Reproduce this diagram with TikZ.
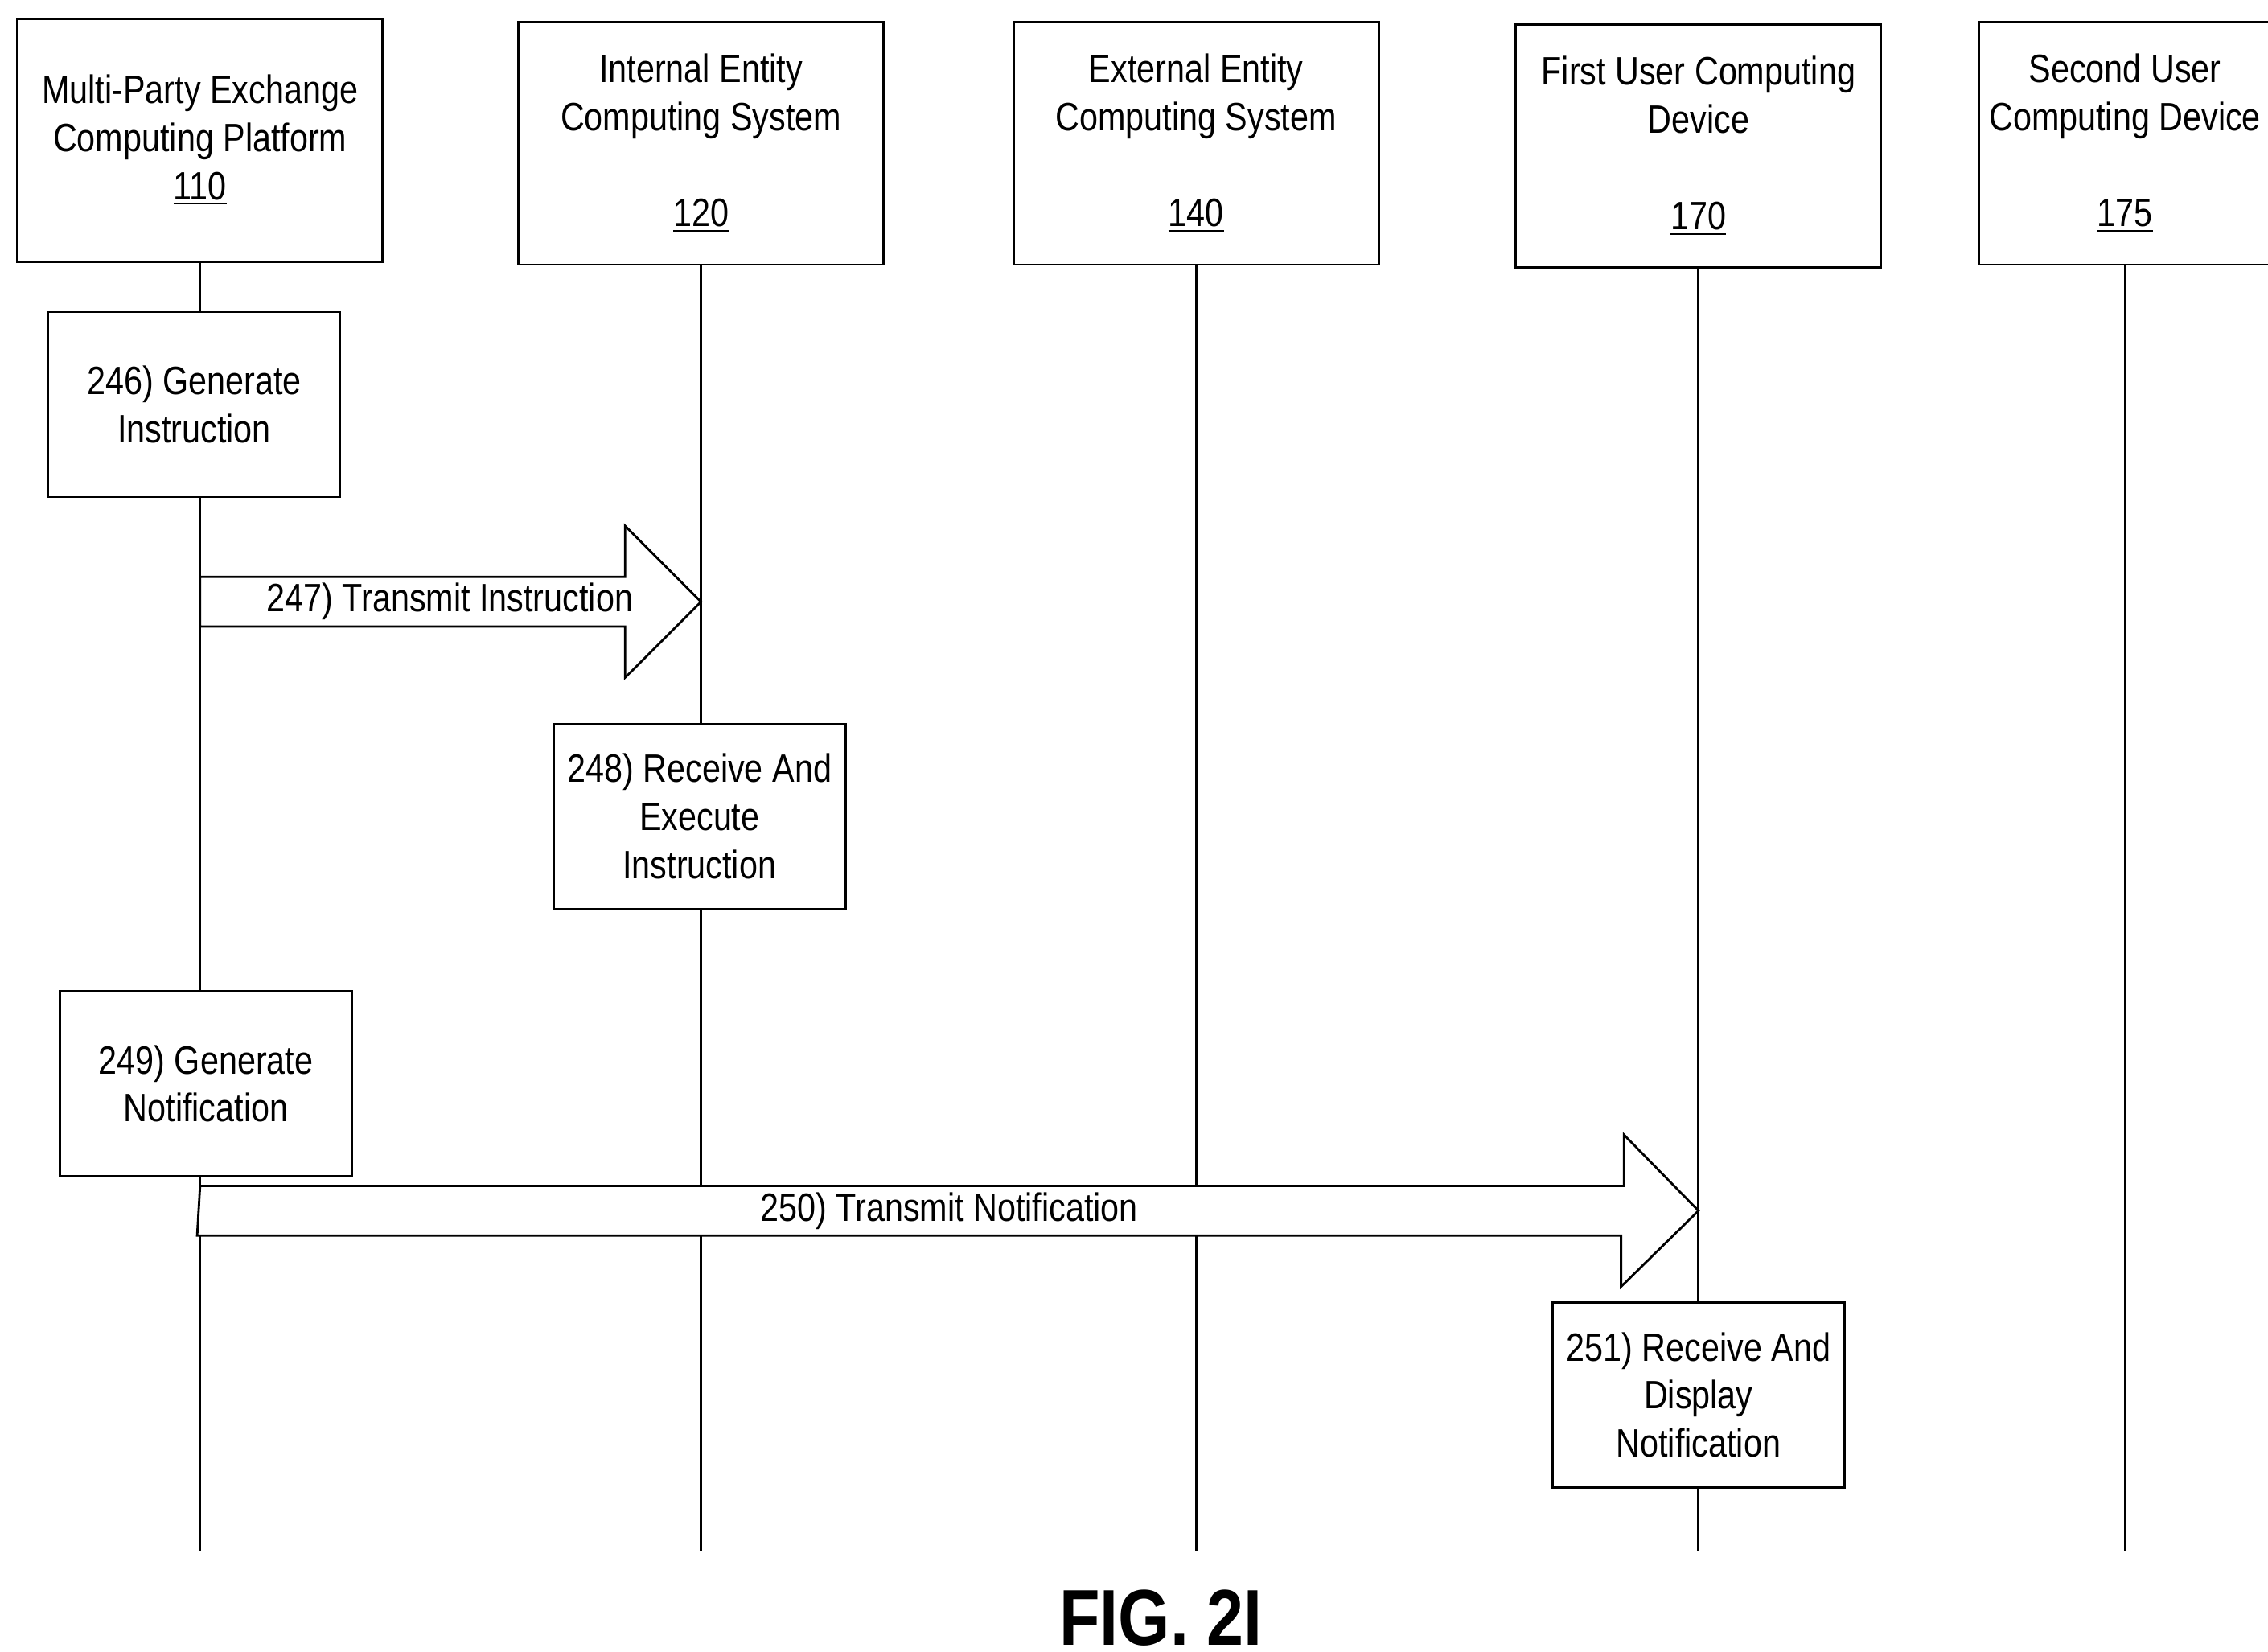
\documentclass[tikz,border=0pt]{standalone}
\usepackage{fontspec}
\setmainfont{Liberation Sans}[FakeStretch=0.84]
\usetikzlibrary{positioning}
\tikzset{
  ent/.style={draw, thick, fill=white, minimum width=4.54cm, minimum height=3.02cm, align=center, font=\fontsize{14}{17}\selectfont},
  act/.style={draw, thick, fill=white, minimum width=3.63cm, minimum height=2.3cm, align=center, font=\fontsize{14}{17}\selectfont},
  life/.style={thick},
  fat/.style={draw, thick, fill=white}
}
\begin{document}
\begin{tikzpicture}[x=0.018158cm, y=-0.018158cm]
\useasboundingbox (0,0) rectangle (1553,1131);
% entities
\node[ent] (p110) at (137,96) {Multi-Party Exchange\\Computing Platform\\\underline{110}};
\node[ent] (s120) at (480,98) {Internal Entity\\Computing System\\[0.6cm]\underline{120}};
\node[ent] (s140) at (819,98) {External Entity\\Computing System\\[0.6cm]\underline{140}};
\node[ent] (d170) at (1163,100) {First User Computing\\Device\\[0.6cm]\underline{170}};
\node[ent, minimum width=3.63cm] (d175) at (1455,98) {Second User\\Computing Device\\[0.6cm]\underline{175}};
% lifelines
\foreach \n in {p110,s120,s140,d170,d175}{
  \coordinate (\n-end) at (\n.south |- 0,1062);
  \draw[life] (\n.south) -- (\n-end);
}
% steps
\node[act] (g246) at (133,277) {246) Generate\\Instruction};
\node[act] (r248) at (479,559) {248) Receive And\\Execute\\Instruction};
\node[act] (g249) at (141,742) {249) Generate\\Notification};
\node[act] (r251) at (1163,955) {251) Receive And\\Display\\Notification};
% block arrows
\coordinate (a247) at (p110 |- 0,412);
\draw[fat] (a247) ++(0,-17) -- ++(291,0) -- ++(0,-35) -- (s120 |- a247) -- ++(-52,52) -- ++(0,-35) -- ++(-291,0) -- cycle;
\node[font=\fontsize{14}{17}\selectfont] (t247) at (308,412) {247) Transmit Instruction};
\coordinate (a250) at (p110 |- 0,829);
\draw[fat] (a250) ++(0,-17) -- ++(975,0) -- ++(0,-35) -- (d170 |- a250) -- ++(-53,52) -- ++(0,-35) -- ++(-975,0) -- cycle;
\node[font=\fontsize{14}{17}\selectfont] (t250) at (650,829) {250) Transmit Notification};
% caption
\node[font=\fontsize{28}{34}\bfseries] (fig) at (795,1108) {FIG. 2I};
\end{tikzpicture}
\end{document}
